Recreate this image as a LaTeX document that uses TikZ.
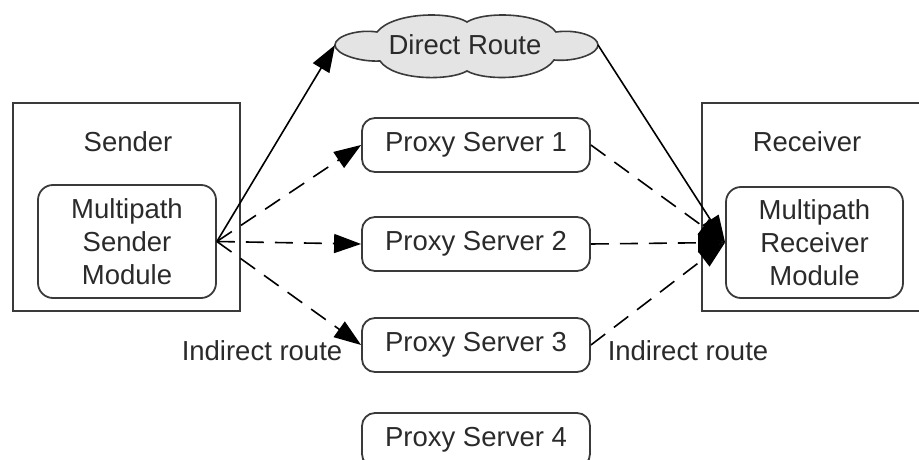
\documentclass[tikz,border=0pt]{standalone}
\usepackage{fontspec}
\setmainfont{Liberation Sans}
\usetikzlibrary{arrows.meta}

\definecolor{inkgray}{HTML}{2A2A2A}
\definecolor{boxgray}{HTML}{3A3A3A}
\definecolor{cloudfill}{HTML}{E4E4E4}

\tikzset{
  lbl/.style={font=\fontsize{27.5}{33}\selectfont, text=inkgray, inner sep=0pt},
  frame/.style={draw=boxgray, line width=1.8pt},
  module/.style={frame, rounded corners=15pt, align=center,
    font=\fontsize{27.5}{33}\selectfont, text=inkgray, inner sep=0pt},
  proxy/.style={frame, rounded corners=13pt, minimum width=228pt,
    minimum height=54pt, font=\fontsize{27.5}{33}\selectfont,
    text=inkgray, inner sep=0pt},
  tip/.style={-{Triangle[length=27pt,width=19pt]}},
  route/.style={line width=1.6pt, black},
  indirect/.style={route, dash pattern=on 18pt off 11pt},
}

\begin{document}
\begin{tikzpicture}[x=1pt, y=-1pt]
\useasboundingbox (0,0) rectangle (919,460);

% outer boxes of the two end hosts
\draw[frame] (13,103) rectangle (240,311);
\draw[frame] (702,103) rectangle (935,311);
\node[lbl] (sendlbl) at (128,142) {Sender};
\node[lbl] (recvlbl) at (807,142) {Receiver};

% multipath modules
\node[module, minimum width=178pt, minimum height=113pt] (sm) at (127,241.5)
  {Multipath\\Sender\\Module};
\node[module, minimum width=177pt, minimum height=111pt] (rm) at (814.5,242.5)
  {Multipath\\Receiver\\Module};

% the direct route cloud
\draw[line width=1.6pt, draw=boxgray, fill=cloudfill]
  (335,45) .. controls (335,36) and (358,29) .. (377,32)
  .. controls (393,12) and (450,11) .. (467,22)
  .. controls (484,11) and (541,12) .. (556,32)
  .. controls (576,29) and (598,36) .. (598,45)
  .. controls (598,54) and (575,62) .. (554,60)
  .. controls (540,81) and (484,81) .. (467,71)
  .. controls (450,81) and (394,81) .. (380,61)
  .. controls (359,62) and (335,54) .. (335,45) -- cycle;
\node[lbl] (direct) at (465,45) {Direct Route};
\coordinate (cloudL) at (335,45);
\coordinate (cloudR) at (598,45);

% proxy servers
\node[proxy] (ps1) at (476,145) {Proxy Server 1};
\node[proxy] (ps2) at (476,244) {Proxy Server 2};
\node[proxy] (ps3) at (476,345) {Proxy Server 3};
\node[proxy] (ps4) at (476,440) {Proxy Server 4};

% route labels
\node[lbl] (indL) at (262,351) {Indirect route};
\node[lbl] (indR) at (688,351) {Indirect route};

% direct route
\draw[route, tip] (sm.east) -- (cloudL);
\draw[route, tip] (cloudR) -- (rm.west);

% indirect routes through the proxies
\draw[indirect, tip] (sm.east) -- (ps1.west);
\draw[indirect, tip] (sm.east) -- (ps2.west);
\draw[indirect, tip] (sm.east) -- (ps3.west);
\draw[indirect, tip] (ps1.east) -- (rm.west);
\draw[indirect, tip] (ps2.east) -- (rm.west);
\draw[indirect, tip] (ps3.east) -- (rm.west);
\end{tikzpicture}
\end{document}
